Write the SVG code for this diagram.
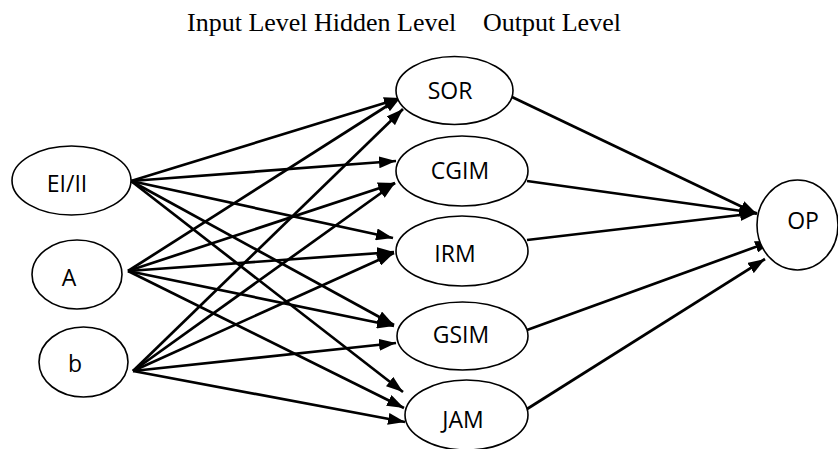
<svg xmlns="http://www.w3.org/2000/svg" width="838" height="449" viewBox="0 0 838 449">
<style>
.node ellipse{fill:#fff;stroke:#000;stroke-width:1.6}
.node text{font-family:"Open Sans","Noto Sans",sans-serif;font-size:23px;fill:#000;text-anchor:middle}
.edges line{stroke:#000;stroke-width:2.7;marker-end:url(#ah)}
.title{font-family:"Liberation Serif","Times New Roman",serif;font-size:26px;fill:#000}
</style>
<defs>
<marker id="ah" viewBox="0 0 17 12" refX="17" refY="6" markerWidth="17" markerHeight="12" markerUnits="userSpaceOnUse" orient="auto">
<path d="M0,0 L17,6 L0,12 z" fill="#000"/>
</marker>
</defs>
<rect width="838" height="449" fill="#fff"/>
<g id="title">
<text class="title" x="187" y="31">Input Level Hidden Level</text>
<text class="title" x="483" y="31">Output Level</text>
</g>
<g class="edges" id="connectors">
<line x1="131" y1="181" x2="401" y2="98"/>
<line x1="131" y1="181" x2="396" y2="161"/>
<line x1="131" y1="181" x2="393" y2="238"/>
<line x1="131" y1="181" x2="394" y2="325"/>
<line x1="131" y1="181" x2="403" y2="392"/>
<line x1="128" y1="271" x2="401" y2="97"/>
<line x1="128" y1="271" x2="395" y2="183"/>
<line x1="128" y1="271" x2="394" y2="252"/>
<line x1="128" y1="271" x2="394" y2="326"/>
<line x1="128" y1="271" x2="404" y2="408"/>
<line x1="133" y1="371" x2="403" y2="109"/>
<line x1="133" y1="371" x2="395" y2="183"/>
<line x1="133" y1="371" x2="394" y2="253"/>
<line x1="133" y1="371" x2="396" y2="343"/>
<line x1="133" y1="371" x2="405" y2="422"/>
<line x1="512" y1="97" x2="757" y2="214"/>
<line x1="527" y1="181" x2="756" y2="213"/>
<line x1="527" y1="240" x2="757" y2="213"/>
<line x1="527" y1="330" x2="772" y2="241"/>
<line x1="527" y1="409" x2="765" y2="259"/>
</g>
<g class="node" id="n-eiii"><ellipse cx="71.5" cy="180.5" rx="59.5" ry="34.5"/><text x="67" y="192">EI/II</text></g>
<g class="node" id="n-a"><ellipse cx="77" cy="274.5" rx="45" ry="34.5"/><text x="69" y="286">A</text></g>
<g class="node" id="n-b"><ellipse cx="83.5" cy="362" rx="44.5" ry="35"/><text x="75" y="372">b</text></g>
<g class="node" id="n-sor"><ellipse cx="454.5" cy="90.5" rx="58.5" ry="34"/><text x="450" y="99">SOR</text></g>
<g class="node" id="n-cgim"><ellipse cx="462" cy="171" rx="66" ry="35"/><text x="460" y="179">CGIM</text></g>
<g class="node" id="n-irm"><ellipse cx="462" cy="251" rx="66" ry="35"/><text x="455" y="262">IRM</text></g>
<g class="node" id="n-gsim"><ellipse cx="462.5" cy="336" rx="65.5" ry="34"/><text x="461" y="343">GSIM</text></g>
<g class="node" id="n-jam"><ellipse cx="466.5" cy="415" rx="61.5" ry="35"/><text x="463" y="428">JAM</text></g>
<g class="node" id="n-op"><ellipse cx="797.5" cy="225" rx="40.5" ry="45"/><text x="803" y="229">OP</text></g>
</svg>
